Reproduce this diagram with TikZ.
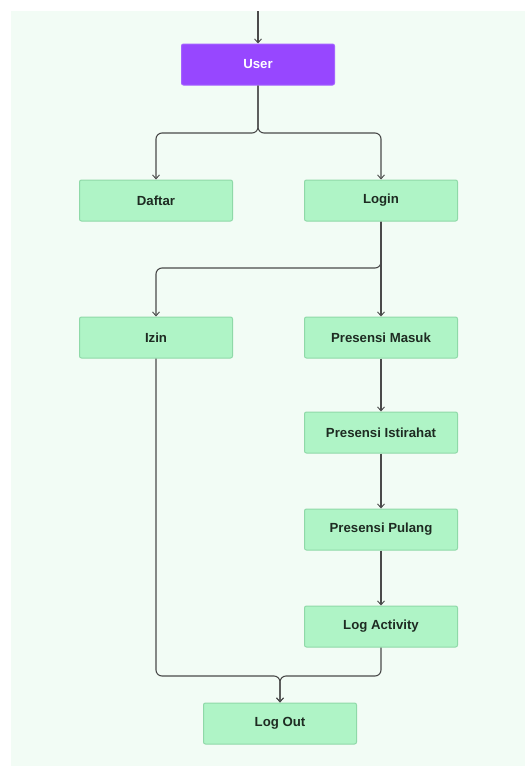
\documentclass[tikz,border=0pt]{standalone}
\usepackage{fontspec}
\setmainfont{Liberation Sans}
\usetikzlibrary{arrows.meta}
\definecolor{panel}{HTML}{F2FCF5}
\definecolor{boxfill}{HTML}{AFF4C6}
\definecolor{boxline}{HTML}{8FD9A8}
\definecolor{purp}{HTML}{9747FF}
\definecolor{purpline}{HTML}{A463FF}
\definecolor{txt}{HTML}{1E2B22}
\definecolor{conn}{HTML}{4A4A4A}
\tikzset{
  box/.style={draw=boxline, fill=boxfill, line width=1pt, rounded corners=2pt,
    minimum width=153pt, minimum height=41pt, inner sep=0pt,
    font=\fontsize{13.2}{15}\selectfont\bfseries, text=txt},
  userbox/.style={box, draw=purpline, fill=purp, text=white},
  conn/.style={draw=conn, line width=1.1pt, rounded corners=6pt,
    -{Straight Barb[length=4pt,width=7pt,line width=0.9pt]}}
}
\begin{document}
\begin{tikzpicture}[x=1pt,y=-1pt]
\useasboundingbox (0,0) rectangle (525,766);
\fill[white] (0,0) rectangle (525,766);
\fill[panel] (11,11) rectangle (525,766);

\node[userbox] (user) at (258,64.5) {User};
\node[box] (daftar) at (156,200.5) {Daftar};
\node[box] (login) at (381,200.5) {Login};
\node[box] (izin) at (156,337.5) {Izin};
\node[box] (masuk) at (381,337.5) {Presensi Masuk};
\node[box] (istirahat) at (381,432.5) {Presensi Istirahat};
\node[box] (pulang) at (381,529.5) {Presensi Pulang};
\node[box] (log) at (381,626.5) {Log Activity};
\node[box] (logout) at (280,723.5) {Log Out};

\coordinate (start) at (258,11);
\coordinate (usplit) at (258,133);
\coordinate (lsplit) at (381,268);
\coordinate (jleft) at (156,676);
\coordinate (jright) at (381,676);

\draw[conn] (start) -- (user.north);
\draw[conn] (user.south) -- (usplit) -| (daftar.north);
\draw[conn] (user.south) -- (usplit) -| (login.north);
\draw[conn] (login.south) -- (masuk.north);
\draw[conn] (login.south) -- (lsplit) -| (izin.north);
\draw[conn] (masuk.south) -- (istirahat.north);
\draw[conn] (istirahat.south) -- (pulang.north);
\draw[conn] (pulang.south) -- (log.north);
\draw[conn] (izin.south) -- (jleft) -| (logout.north);
\draw[conn] (log.south) -- (jright) -| (logout.north);
\end{tikzpicture}
\end{document}
